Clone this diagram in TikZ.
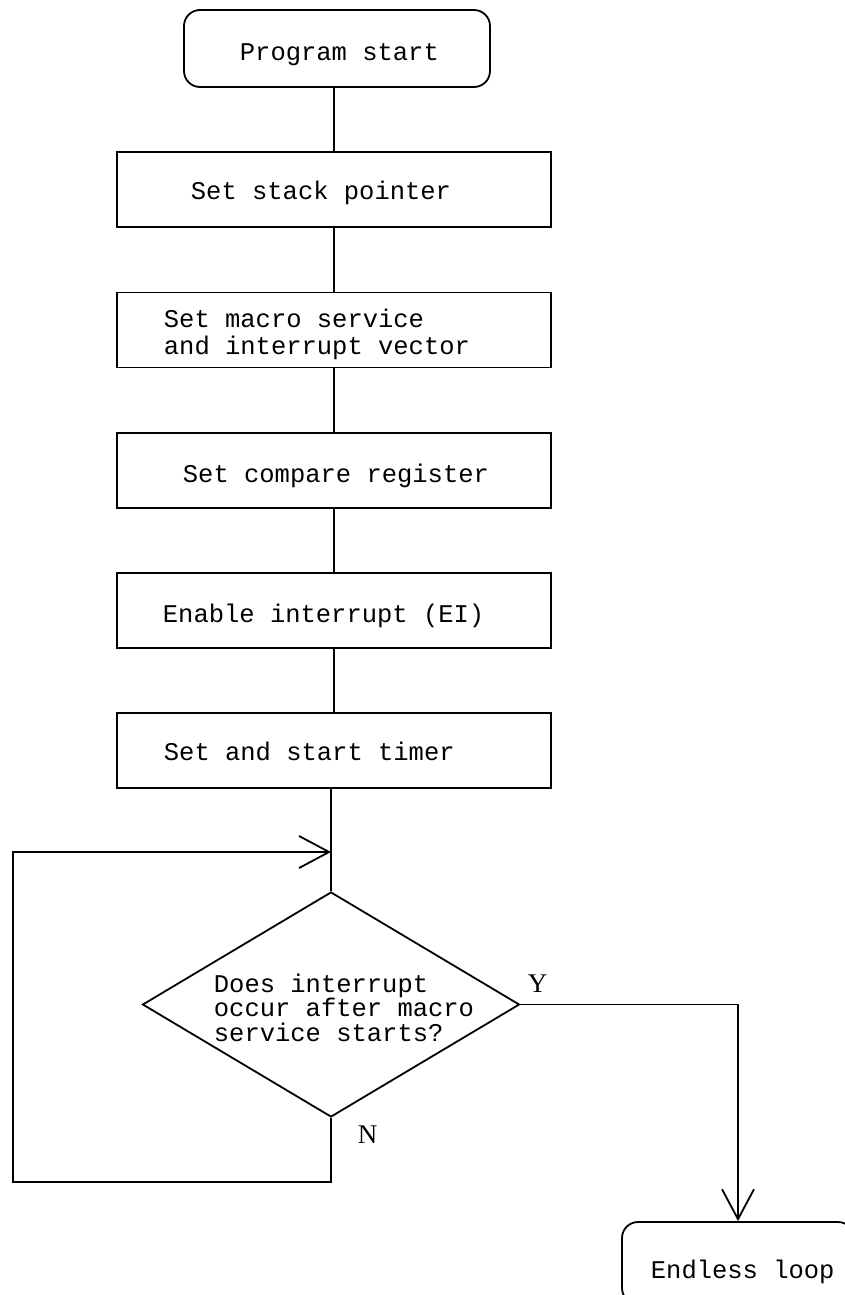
\documentclass[tikz,border=0pt]{standalone}
\usepackage{fontspec}
\setmonofont{Liberation Mono}
\newfontfamily\ynfont{Liberation Serif}
\usetikzlibrary{arrows.meta,shapes.geometric}

\begin{document}
\begin{tikzpicture}[x=1pt,y=-1pt,line width=1.8pt,
  proc/.style={draw, rectangle, minimum width=434pt, minimum height=75pt, inner sep=0pt},
  term/.style={draw, rectangle, rounded corners=16pt, inner sep=0pt},
  decision/.style={draw, diamond, minimum width=377pt, minimum height=225pt, inner sep=0pt},
  txt/.style={font=\ttfamily\fontsize{25.5}{27}\selectfont, inner sep=0pt, anchor=base west},
  mtxt/.style={font=\ttfamily\fontsize{25.5}{#1}\selectfont, inner sep=0pt, anchor=north west, align=left},
  yn/.style={font=\ynfont\fontsize{27}{27}\selectfont, inner sep=0pt, anchor=base west},
  flow/.style={-{Straight Barb[length=30pt,width=32pt]}},
]
\clip (0,0) rectangle (845,1295);

% shapes of the chart
\node[term, minimum width=306pt, minimum height=77pt] (start) at (337,48.5) {};
\node[proc] (stack) at (334,189.5) {};
\node[proc] (macro) at (334,330) {};
\node[proc] (cmp) at (334,470.5) {};
\node[proc] (ei) at (334,610.5) {};
\node[proc] (timer) at (334,750.5) {};
\node[decision] (dec) at (331,1004.5) {};
\node[term, minimum width=232pt, minimum height=82pt] (end) at (738,1263) {};

% texts
\node[txt] (starttxt) at (239,61) {Program start};
\node[txt] (stacktxt) at (190,199) {Set stack pointer};
\node[mtxt=27pt] (macrotxt) at (163,308) {Set macro service\\and interrupt vector};
\node[txt] (cmptxt) at (182,482) {Set compare register};
\node[txt] (eitxt) at (162,622) {Enable interrupt (EI)};
\node[txt] (timertxt) at (163,760) {Set and start timer};
\node[mtxt=24.5pt] (dectxt) at (213,973) {Does interrupt\\occur after macro\\service starts?};
\node[txt] (endtxt) at (650,1278) {Endless loop};
\node[yn] (ylab) at (527,992) {Y};
\node[yn] (nlab) at (357,1143) {N};

% connectors
\coordinate (loopin) at (331,852);
\coordinate (nleft) at (13,1182);
\draw (start.south -| stack.north) -- (stack.north);
\draw (stack.south) -- (macro.north);
\draw (macro.south) -- (cmp.north);
\draw (cmp.south) -- (ei.north);
\draw (ei.south) -- (timer.north);
\draw (timer.south -| dec.north) -- (dec.north);
\draw[flow] (dec.south) |- (nleft) |- (loopin);
\draw[flow] (dec.east) -| (end.north);
\end{tikzpicture}
\end{document}
